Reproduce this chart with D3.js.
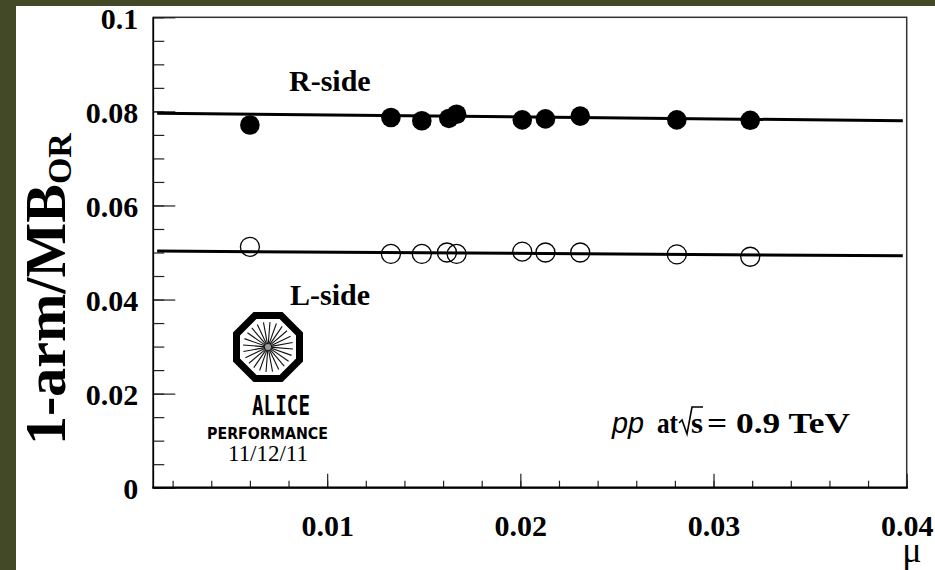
<!DOCTYPE html>
<html>
<head>
<meta charset="utf-8">
<script src="https://cdn.jsdelivr.net/npm/d3@7"></script>
<style>
  body { margin: 0; background: #fff; }
  svg { display: block; }
</style>
</head>
<body>
<div id="chart"></div>
<script>
// mu values and 1-arm/MB_OR ratios for each side
var muR = [0.0060, 0.0133, 0.0149, 0.0163, 0.0167, 0.0201, 0.0213, 0.0231, 0.0281, 0.0319];
var ratioR = [0.0771, 0.0787, 0.0780, 0.0785, 0.0794, 0.0782, 0.0784, 0.0790, 0.0782, 0.0781];
var muL = [0.0060, 0.0133, 0.0149, 0.0162, 0.0167, 0.0201, 0.0213, 0.0231, 0.0281, 0.0319];
var ratioL = [0.0512, 0.0497, 0.0497, 0.0500, 0.0497, 0.0502, 0.0500, 0.0500, 0.0496, 0.0491];

// linear fits (end points)
var fitMu = [0.0012, 0.0398];
var fitR = [0.0796, 0.0780];
var fitL = [0.0503, 0.0493];

var xTicks = [0.01, 0.02, 0.03, 0.04];
var xTickLabels = ['0.01', '0.02', '0.03', '0.04'];
var yTicks = [0, 0.02, 0.04, 0.06, 0.08, 0.1];
var yTickLabels = ['0', '0.02', '0.04', '0.06', '0.08', '0.1'];

var chartWidth = 935;
var chartHeight = 570;
var plotLeft = 153.3, plotRight = 906.7, plotTop = 17.3, plotBottom = 487.7;
var serif = '"Liberation Serif", "Times New Roman", serif';

var svg = d3.select('#chart')
    .append('svg')
    .attr('width', chartWidth)
    .attr('height', chartHeight);

// slide border
svg.append('rect').attr('x', 0).attr('y', 0)
    .attr('width', chartWidth).attr('height', chartHeight).attr('fill', '#fff');
svg.append('rect').attr('x', 0).attr('y', 0)
    .attr('width', 16).attr('height', chartHeight).attr('fill', '#434927');
svg.append('rect').attr('x', 0).attr('y', 0)
    .attr('width', chartWidth).attr('height', 6).attr('fill', '#434927');

// Scales
var scaleX = d3.scaleLinear().domain([0.001, 0.04]).range([plotLeft, plotRight]);
var scaleY = d3.scaleLinear().domain([0, 0.1]).range([plotBottom, plotTop]);

// frame
svg.append('rect')
    .attr('x', plotLeft).attr('y', plotTop)
    .attr('width', plotRight - plotLeft).attr('height', plotBottom - plotTop)
    .attr('fill', 'none').attr('stroke', '#333').attr('stroke-width', 1.5);

// Axes: minor ticks
svg.append('g')
    .attr('transform', 'translate(0,' + plotBottom + ')')
    .call(d3.axisBottom(scaleX).tickValues(scaleX.ticks(20)).tickSize(-7).tickFormat(''))
    .call(function(g) { g.select('.domain').remove(); });
svg.append('g')
    .attr('transform', 'translate(' + plotLeft + ',0)')
    .call(d3.axisLeft(scaleY).tickValues(scaleY.ticks(20)).tickSize(-11).tickFormat(''))
    .call(function(g) { g.select('.domain').remove(); });

// Axes: major ticks with labels
var axisX = d3.axisBottom(scaleX)
    .tickValues(xTicks)
    .tickSize(-14)
    .tickPadding(0)
    .tickFormat(function(d, i) { return xTickLabels[i]; });
svg.append('g')
    .attr('class', 'x-axis')
    .attr('transform', 'translate(0,' + plotBottom + ')')
    .call(axisX)
    .call(function(g) {
      g.select('.domain').remove();
      g.selectAll('text').attr('y', 48).attr('dy', 0);
    });

var axisY = d3.axisLeft(scaleY)
    .tickValues(yTicks)
    .tickSize(-22)
    .tickPadding(15)
    .tickFormat(function(d, i) { return yTickLabels[i]; });
svg.append('g')
    .attr('class', 'y-axis')
    .attr('transform', 'translate(' + plotLeft + ',0)')
    .call(axisY)
    .call(function(g) {
      g.select('.domain').remove();
      g.selectAll('text').attr('dy', '0.37em');
    });

svg.selectAll('.x-axis text, .y-axis text')
    .attr('font-family', serif)
    .attr('font-weight', 'bold')
    .attr('font-size', 30)
    .attr('fill', '#000');
svg.selectAll('.tick line').attr('stroke', '#222').attr('stroke-width', 1.2);

// thicker axis lines
svg.append('line').attr('x1', plotLeft - 1).attr('x2', plotRight + 1)
    .attr('y1', plotBottom).attr('y2', plotBottom)
    .attr('stroke', '#000').attr('stroke-width', 2.2);
svg.append('line').attr('x1', plotLeft).attr('x2', plotLeft)
    .attr('y1', plotTop).attr('y2', plotBottom)
    .attr('stroke', '#000').attr('stroke-width', 1.6);

// axis titles
var yTitle = svg.append('text')
    .attr('transform', 'translate(65,445) rotate(-90)')
    .attr('font-family', serif)
    .attr('font-weight', 'bold')
    .attr('font-size', 58)
    .attr('fill', '#000');
yTitle.append('tspan').text('1-arm/MB');
yTitle.append('tspan').attr('font-size', 34).attr('dy', 6).text('OR');

svg.append('text')
    .attr('x', 912).attr('y', 562)
    .attr('text-anchor', 'middle')
    .attr('font-family', serif)
    .attr('font-size', 36)
    .attr('fill', '#000')
    .text('\u03bc');

// fit lines
var line = d3.line()
    .x(function(d) { return scaleX(d[0]); })
    .y(function(d) { return scaleY(d[1]); });
[fitR, fitL].forEach(function(fit) {
  svg.append('path')
      .datum(fitMu.map(function(m, i) { return [m, fit[i]]; }))
      .attr('d', line)
      .attr('fill', 'none')
      .attr('stroke', '#000')
      .attr('stroke-width', 3);
});

// points
svg.append('g').selectAll('circle')
    .data(muL.map(function(m, i) { return [m, ratioL[i]]; }))
    .enter()
    .append('circle')
    .attr('cx', function(d) { return scaleX(d[0]); })
    .attr('cy', function(d) { return scaleY(d[1]); })
    .attr('r', 9.5)
    .attr('fill', 'none')
    .attr('stroke', '#000')
    .attr('stroke-width', 1.3);

svg.append('g').selectAll('circle')
    .data(muR.map(function(m, i) { return [m, ratioR[i]]; }))
    .enter()
    .append('circle')
    .attr('cx', function(d) { return scaleX(d[0]); })
    .attr('cy', function(d) { return scaleY(d[1]); })
    .attr('r', 9.8)
    .attr('fill', '#000');

// labels
svg.append('text').attr('x', 289).attr('y', 91)
    .attr('font-family', serif).attr('font-weight', 'bold').attr('font-size', 30)
    .text('R-side');
svg.append('text').attr('x', 290).attr('y', 305)
    .attr('font-family', serif).attr('font-weight', 'bold').attr('font-size', 30)
    .text('L-side');

// pp at sqrt(s) = 0.9 TeV
svg.append('text').attr('x', 612).attr('y', 433)
    .attr('font-family', '"Liberation Sans", Arial, sans-serif')
    .attr('font-style', 'italic').attr('font-size', 29)
    .attr('textLength', 32).attr('lengthAdjust', 'spacingAndGlyphs')
    .text('pp');
svg.append('text').attr('x', 657).attr('y', 433)
    .attr('font-family', serif).attr('font-weight', 'bold').attr('font-size', 30)
    .attr('textLength', 21).attr('lengthAdjust', 'spacingAndGlyphs')
    .text('at');
svg.append('path')
    .attr('d', 'M679,423 L682,420 L687,434 L692,407 L703,407')
    .attr('fill', 'none').attr('stroke', '#000').attr('stroke-width', 1.6);
svg.append('text').attr('x', 691).attr('y', 433)
    .attr('font-family', serif).attr('font-weight', 'bold').attr('font-size', 29)
    .attr('textLength', 12).attr('lengthAdjust', 'spacingAndGlyphs')
    .text('s');
svg.append('text').attr('x', 707).attr('y', 433)
    .attr('font-family', serif).attr('font-weight', 'bold').attr('font-size', 29)
    .attr('transform', 'translate(707,0) scale(1.22,1) translate(-707,0)')
    .text('= 0.9 TeV');

// ALICE performance logo
var logo = svg.append('g').attr('transform', 'translate(268,347)');
var octR = 31.5 / Math.cos(Math.PI / 8);
var oct = d3.range(8).map(function(k) {
  var a = Math.PI / 8 + k * Math.PI / 4;
  return [octR * Math.cos(a), octR * Math.sin(a)];
});
logo.append('path')
    .attr('d', d3.line()(oct) + 'Z')
    .attr('fill', '#fff').attr('stroke', '#000').attr('stroke-width', 7)
    .attr('stroke-linejoin', 'miter');
d3.range(24).forEach(function(k) {
  var a = k * Math.PI / 12 + 0.08;
  logo.append('line')
      .attr('x1', 2 * Math.cos(a)).attr('y1', 2 * Math.sin(a))
      .attr('x2', 25 * Math.cos(a)).attr('y2', 25 * Math.sin(a))
      .attr('stroke', '#111').attr('stroke-width', 1.1);
});
logo.append('circle').attr('r', 3).attr('fill', '#999');

svg.append('text').attr('x', 281).attr('y', 415)
    .attr('text-anchor', 'middle')
    .attr('font-family', '"DejaVu Sans Mono", monospace')
    .attr('font-weight', 'bold').attr('font-size', 27)
    .attr('textLength', 58).attr('lengthAdjust', 'spacingAndGlyphs')
    .text('ALICE');
svg.append('text').attr('x', 267.5).attr('y', 439)
    .attr('text-anchor', 'middle')
    .attr('font-family', '"DejaVu Sans", sans-serif')
    .attr('font-weight', 'bold').attr('font-size', 15)
    .attr('textLength', 121).attr('lengthAdjust', 'spacingAndGlyphs')
    .text('PERFORMANCE');
svg.append('text').attr('x', 268).attr('y', 461)
    .attr('text-anchor', 'middle')
    .attr('font-family', serif)
    .attr('font-size', 24)
    .attr('textLength', 80).attr('lengthAdjust', 'spacingAndGlyphs')
    .text('11/12/11');
</script>
</body>
</html>
